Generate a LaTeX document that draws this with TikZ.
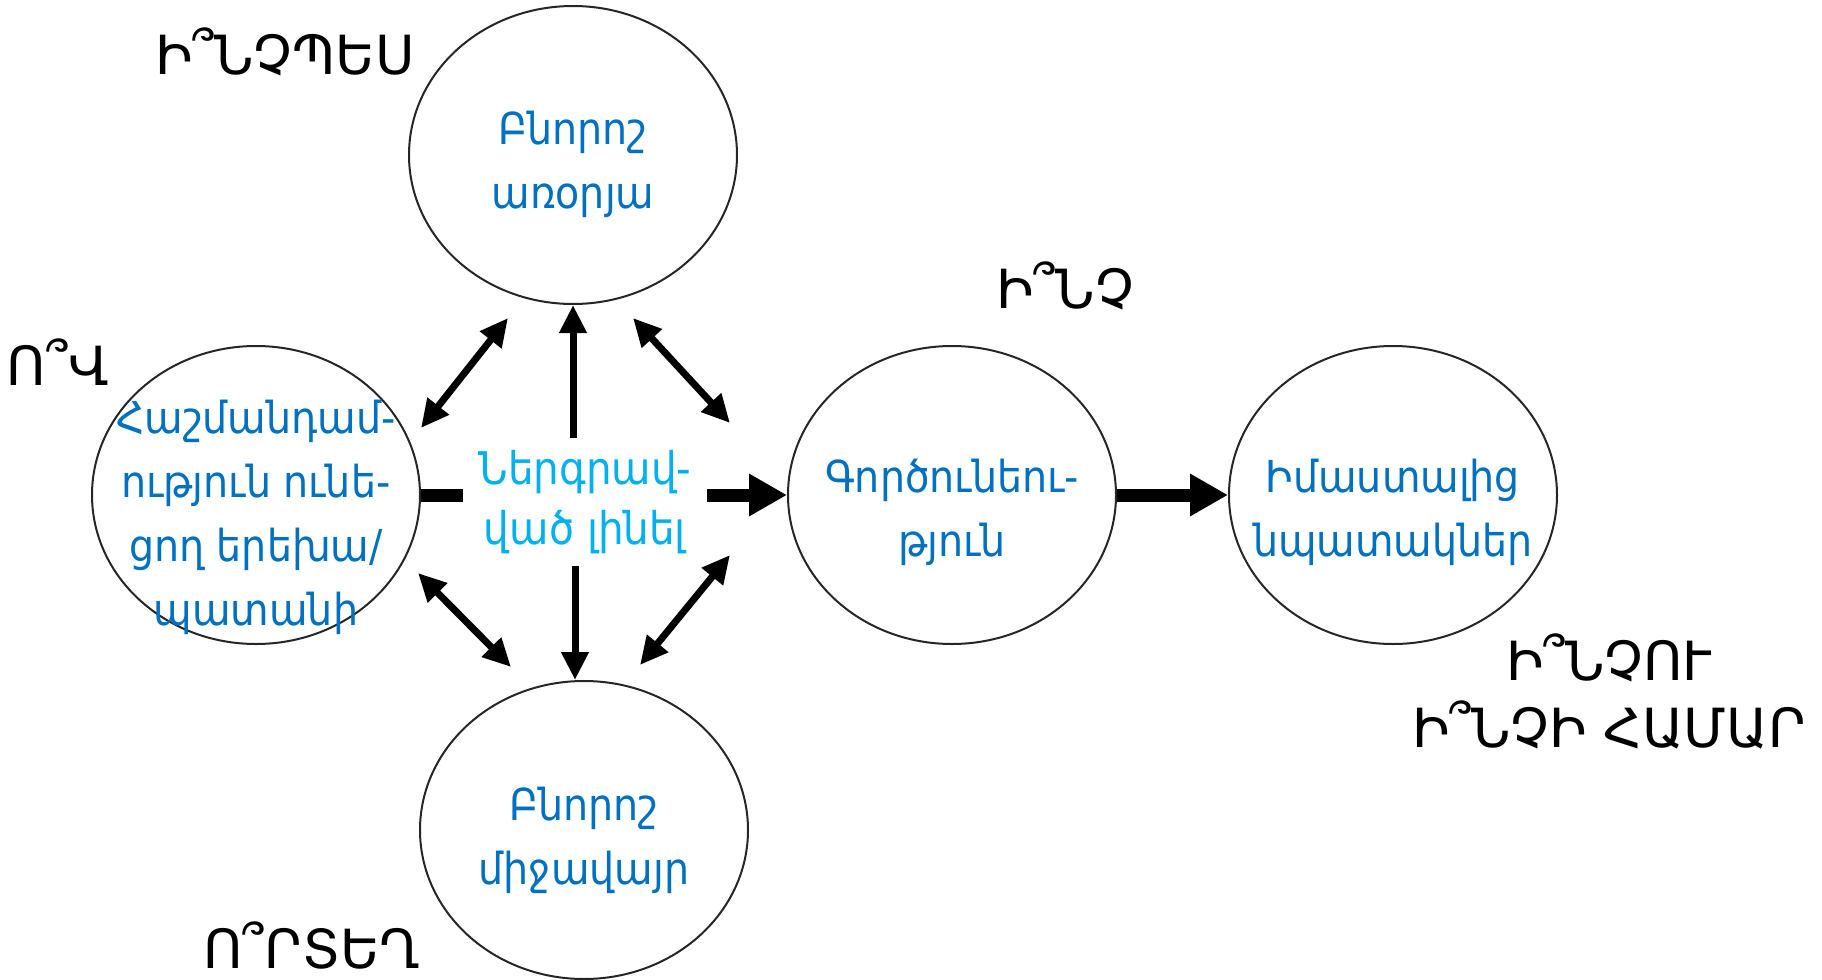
\documentclass[tikz,border=0pt]{standalone}
\usepackage{fontspec}
\setmainfont{DejaVu Sans}
\newfontfamily\condfont{DejaVu Sans Condensed}
\usetikzlibrary{shapes.geometric,arrows.meta}
\definecolor{ellblue}{RGB}{0,112,192}
\definecolor{midblue}{RGB}{0,176,240}
\tikzset{
  ell/.style={draw=black!85, line width=1pt, ellipse, minimum width=164pt, minimum height=149pt, inner sep=0pt},
  elltext/.style={text=ellblue, font=\condfont\fontsize{22}{32}\selectfont, align=center, inner sep=0pt},
  midtext/.style={text=midblue, font=\condfont\fontsize{22.5}{30}\selectfont, align=center, inner sep=0pt, minimum width=122pt, minimum height=63.5pt},
  qlabel/.style={font=\fontsize{27}{33.5}\selectfont, text=black, align=center, inner sep=0pt},
  bigbar/.style={line width=6.5pt},
  bigarrow/.style={line width=6.5pt, -{Triangle[length=19pt,width=20pt]}},
  thinarrow/.style={line width=3.5pt, -{Triangle[length=14pt,width=13pt]}},
  dblarrow/.style={line width=3.5pt, {Triangle[length=14pt,width=13pt]}-{Triangle[length=14pt,width=13pt]}},
}
\begin{document}
\begin{tikzpicture}[x=0.5pt,y=-0.5pt]
\useasboundingbox (0,0) rectangle (1822,980);
% ellipses
\node[ell, label={[elltext,yshift=-4.5pt]center:{Բնորոշ\\առօրյա}}] (top) at (573,155) {};
\node[ell, label={[elltext,yshift=-11pt]center:{Հաշմանդամ-\\ություն ունե-\\ցող երեխա/\\պատանի}}] (child) at (256,495) {};
\node[ell, label={[elltext,yshift=-5pt]center:{Բնորոշ\\միջավայր}}] (bottom) at (584,830) {};
\node[ell, label={[elltext,yshift=-8.5pt]center:{Գործունեու-\\թյուն}}] (act) at (952,495) {};
\node[ell, label={[elltext,yshift=-8.5pt]center:{Իմաստալից\\նպատակներ}}] (goal) at (1393,495) {};
% centre text
\node[midtext] (mid) at (585,502) {Ներգրավ-\\ված լինել};
% question labels
\node[qlabel] (qhow) at (285,52) {Ի՞ՆՉՊԵՍ};
\node[qlabel] (qwho) at (58,362) {Ո՞Վ};
\node[qlabel] (qwhat) at (1065,286) {Ի՞ՆՉ};
\node[qlabel] (qwhy) at (1609,691) {Ի՞ՆՉՈՒ\\Ի՞ՆՉԻ ՀԱՄԱՐ};
\node[qlabel] (qwhere) at (312,945) {Ո՞ՐՏԵՂ};
% diagonal arrow ends
\coordinate (d1a) at (421,428);
\coordinate (d1b) at (508,318);
\coordinate (d2a) at (633,318);
\coordinate (d2b) at (730,423);
\coordinate (d3a) at (418,573);
\coordinate (d3b) at (511,667);
\coordinate (d4a) at (640,665);
\coordinate (d4b) at (730,555);
% connectors
\draw[bigbar] (child.east) -- (mid.west |- child.east);
\draw[bigarrow] (mid.east |- act.west) -- (act.west);
\draw[bigarrow] (act.east) -- (goal.west);
\draw[thinarrow] ([xshift=-6pt]mid.north) -- (top.south);
\draw[thinarrow] ([xshift=-5pt]mid.south) -- ([xshift=-4.5pt]bottom.north);
\draw[dblarrow] (d1a) -- (d1b);
\draw[dblarrow] (d2a) -- (d2b);
\draw[dblarrow] (d3a) -- (d3b);
\draw[dblarrow] (d4a) -- (d4b);
\end{tikzpicture}
\end{document}
